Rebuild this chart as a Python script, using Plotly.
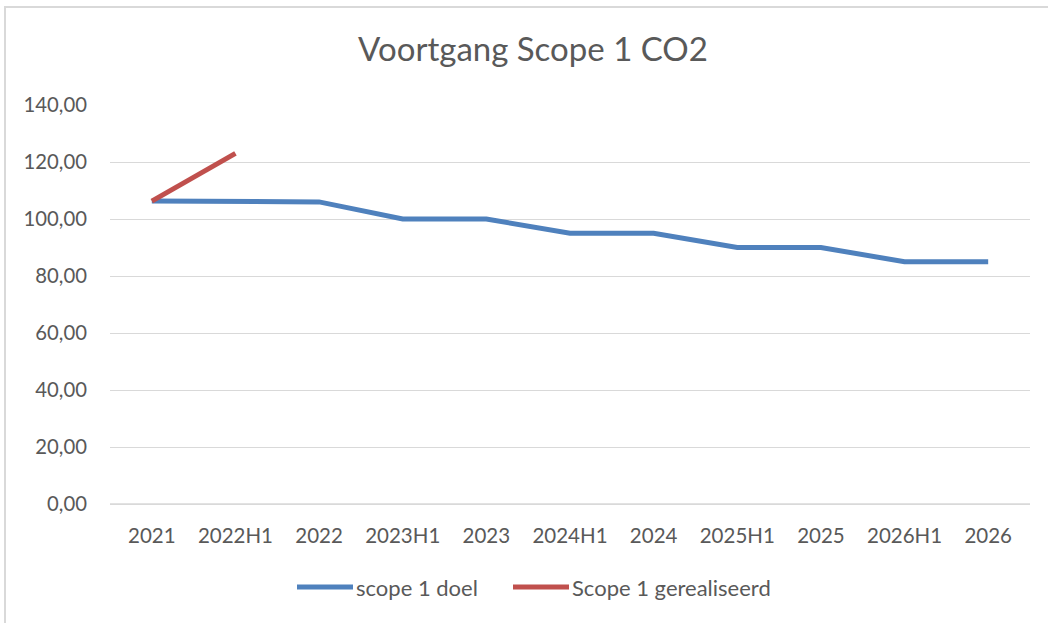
import plotly.graph_objects as go

categories = ["2021", "2022H1", "2022", "2023H1", "2023", "2024H1", "2024", "2025H1", "2025", "2026H1", "2026"]
doel = [106.3, 106.0, 106.0, 100.0, 100.0, 95.0, 95.0, 90.0, 90.0, 85.0, 85.0]
gerealiseerd = [106.3, 123.0]
gerealiseerd_cats = categories[:2]
y_ticks = [0, 20, 40, 60, 80, 100, 120, 140]
series_names = ["scope 1 doel", "Scope 1 gerealiseerd"]
series_colors = ["#4f81bd", "#c0504d"]

FONT = "Lato"
GRAY = "#595959"
GRID = "#d9d9d9"

# plot-area pixel frame (used for layout placement only)
L, R, T, B = 110, 1030, 105, 504
W, H = 1048, 623


def px_x(p):
    return (p - L) / (R - L)


def px_y(p):
    return (B - p) / (B - T)


fig = go.Figure()
fig.add_trace(go.Scatter(x=categories, y=doel, mode="lines", name=series_names[0],
                         line=dict(color=series_colors[0], width=5), showlegend=False))
fig.add_trace(go.Scatter(x=gerealiseerd_cats, y=gerealiseerd, mode="lines", name=series_names[1],
                         line=dict(color=series_colors[1], width=5), showlegend=False))

fig.update_layout(
    width=W, height=H,
    margin=dict(l=L, r=W - R, t=T, b=H - B),
    paper_bgcolor="white", plot_bgcolor="white",
    separators=",.",
    font=dict(family=FONT, color=GRAY, size=20),
    title=dict(text="Voortgang Scope 1 CO2", x=533 / W, xref="container", y=1 - 49 / H,
               yref="container", xanchor="center", yanchor="middle",
               font=dict(family=FONT, size=33, color=GRAY)),
    xaxis=dict(type="category", categoryarray=categories, range=[-0.5, len(categories) - 0.5],
               showgrid=False, showline=False, ticks="", ticklabelstandoff=17,
               tickfont=dict(size=20.5, color=GRAY)),
    yaxis=dict(range=[0, 140], tickvals=y_ticks, tickformat=".2f", showgrid=True,
               gridcolor=GRID, gridwidth=1.3, zeroline=True, zerolinecolor=GRID,
               zerolinewidth=1.3, showline=False,
               ticks="", ticklabelstandoff=22, tickfont=dict(size=20.3, color=GRAY)),
    showlegend=False,
)

# baseline gridline at 0 (drawn explicitly since it sits on the plot edge)
fig.add_shape(type="line", xref="paper", yref="y", x0=0, x1=1, y0=y_ticks[0], y1=y_ticks[0],
              line=dict(color=GRID, width=1.3), layer="below")

# chart frame
fig.add_shape(type="rect", xref="paper", yref="paper",
              x0=px_x(5), x1=px_x(W + 20), y0=px_y(H + 20), y1=px_y(7),
              line=dict(color=GRID, width=2), fillcolor="rgba(0,0,0,0)", layer="below")

# manual legend
leg_y = px_y(587)
leg_items = [(297, 353, 356), (513, 569, 572)]
for (x0, x1, xt), name, color in zip(leg_items, series_names, series_colors):
    fig.add_shape(type="line", xref="paper", yref="paper", x0=px_x(x0), x1=px_x(x1),
                  y0=leg_y, y1=leg_y, line=dict(color=color, width=5))
    fig.add_annotation(text=name, xref="paper", yref="paper", x=px_x(xt), y=leg_y,
                       xanchor="left", yanchor="middle", showarrow=False,
                       font=dict(family=FONT, size=22, color=GRAY), xshift=-2)

fig.write_html("out.html", config={"displayModeBar": False},
               post_script="document.body.style.margin='0';document.body.style.overflow='hidden';")
